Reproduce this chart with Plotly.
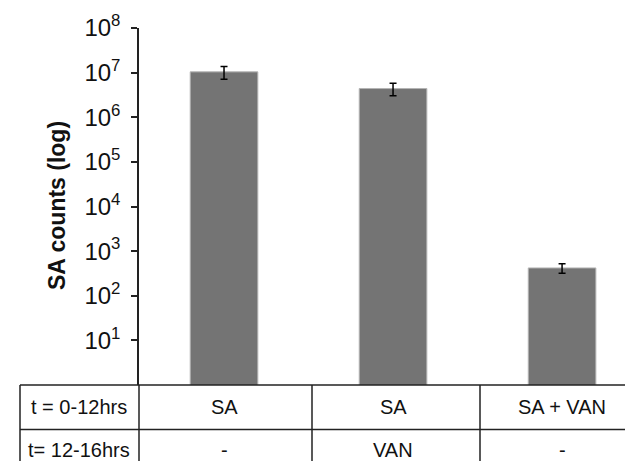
import plotly.graph_objects as go

# Data
row1_labels = ["SA", "SA", "SA + VAN"]          # t = 0-12hrs
row2_labels = ["-", "VAN", "-"]                 # t = 12-16hrs
row_headers = ["t = 0-12hrs", "t= 12-16hrs"]
counts = [1.04e7, 4.4e6, 420]
errors = [3.3e6, 1.35e6, 100]
tick_vals = [10, 100, 1e3, 1e4, 1e5, 1e6, 1e7, 1e8]
tick_text = ["10<sup>1</sup>", "10<sup>2</sup>", "10<sup>3</sup>", "10<sup>4</sup>",
             "10<sup>5</sup>", "10<sup>6</sup>", "10<sup>7</sup>", "10<sup>8</sup>"]
y_title = "SA counts (log)"

W, H = 633, 461
ml, mr, mt, mb = 131, 0, 20, 84
pw, ph = W - ml - mr, H - mt - mb

def px_x(p):
    return (p - ml) / pw

def px_y(p):
    return 1 - (p - mt) / ph

FONT = "Liberation Sans, Arial, sans-serif"
LINE = "#222222"

xs = list(range(len(counts)))
fig = go.Figure(go.Bar(
    x=xs, y=counts, width=0.4,
    marker=dict(color="#747474", line=dict(color="#b4b4b4", width=1)),
    error_y=dict(type="data", array=errors, visible=True, color="black",
                 thickness=1.5, width=3.5),
))

fig.update_layout(
    width=W, height=H,
    margin=dict(l=ml, r=mr, t=mt, b=mb),
    paper_bgcolor="white", plot_bgcolor="white",
    showlegend=False,
    font=dict(family=FONT, color="#111111"),
    xaxis=dict(range=[-0.503, 2.467], showticklabels=False, ticks="",
               showgrid=False, zeroline=False, showline=False),
    yaxis=dict(type="log", range=[0, 8], tickvals=tick_vals, ticktext=tick_text,
               ticks="outside", ticklen=6, tickwidth=1.5, tickcolor=LINE,
               showline=True, linecolor=LINE, linewidth=1.5,
               showgrid=False, zeroline=False, ticklabelstandoff=6,
               tickfont=dict(size=24, family=FONT, color="#111111")),
)

shapes = []
def line(x0, y0, x1, y1):
    shapes.append(dict(type="line", xref="paper", yref="paper",
                       x0=x0, y0=y0, x1=x1, y1=y1,
                       line=dict(color=LINE, width=1.5)))

# table lines
line(px_x(12), px_y(377), px_x(633), px_y(377))
line(px_x(12), px_y(421.5), px_x(633), px_y(421.5))
line(px_x(12), px_y(377), px_x(12), px_y(461))
line(px_x(131), px_y(377), px_x(131), px_y(461))
line(px_x(304), px_y(377), px_x(304), px_y(461))
line(px_x(472), px_y(377), px_x(472), px_y(461))
fig.update_layout(shapes=shapes)

TF = dict(size=20, family=FONT, color="#111111")
ann = []
for i, (a, b) in enumerate(zip(row1_labels, row2_labels)):
    ann.append(dict(x=i, xref="x", y=px_y(399), yref="paper", text=a,
                    showarrow=False, font=TF, xanchor="center", yanchor="middle"))
    ann.append(dict(x=i, xref="x", y=px_y(442), yref="paper", text=b,
                    showarrow=False, font=TF, xanchor="center", yanchor="middle"))
ann.append(dict(x=px_x(71), xref="paper", y=px_y(399), yref="paper", text=row_headers[0],
                showarrow=False, font=TF, xanchor="center", yanchor="middle"))
ann.append(dict(x=px_x(71), xref="paper", y=px_y(442), yref="paper", text=row_headers[1],
                showarrow=False, font=TF, xanchor="center", yanchor="middle"))
ann.append(dict(x=px_x(49), xref="paper", y=px_y(198), yref="paper", text="<b>" + y_title + "</b>",
                textangle=-90, showarrow=False,
                font=dict(size=23, family=FONT, color="#111111"),
                xanchor="center", yanchor="middle"))
fig.update_layout(annotations=ann)

fig.write_html("out.html")
